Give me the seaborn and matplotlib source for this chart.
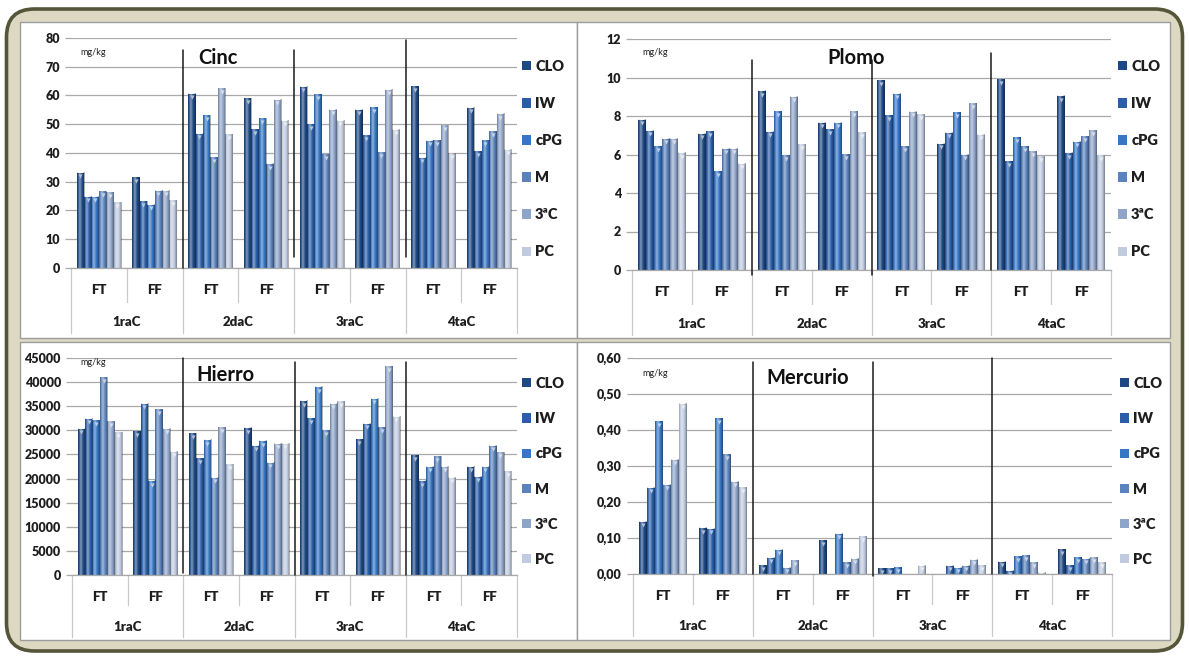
import numpy as np
import pandas as pd
import matplotlib
matplotlib.use("Agg")
import matplotlib.pyplot as plt
import matplotlib.transforms as mtransforms
import matplotlib.colors as mcolors
from matplotlib.patches import FancyBboxPatch, Rectangle, Patch
from matplotlib.ticker import FuncFormatter, MultipleLocator
import seaborn as sns

# ---- data -------------------------------------------------------------
grupos = ["1raC", "2daC", "3raC", "4taC"]
fases = ["FT", "FF"]
series = ["CLO", "IW", "cPG", "M", "3ªC", "PC"]

# rows: 1raC FT, 1raC FF, 2daC FT, 2daC FF, 3raC FT, 3raC FF, 4taC FT, 4taC FF
# columns follow `series`
cinc = [
    [33.2, 24.8, 24.8, 26.7, 26.4, 22.8],
    [31.6, 23.3, 22.0, 26.9, 26.9, 23.5],
    [60.6, 46.7, 53.1, 38.5, 62.5, 46.5],
    [59.0, 48.2, 52.0, 36.2, 58.5, 51.2],
    [63.0, 50.0, 60.5, 39.5, 55.0, 51.3],
    [55.0, 46.1, 56.0, 40.2, 62.0, 48.1],
    [63.2, 38.3, 44.3, 44.5, 49.6, 39.8],
    [55.7, 40.6, 44.4, 47.5, 53.6, 41.2],
]
plomo = [
    [7.80, 7.23, 6.42, 6.82, 6.82, 6.08],
    [7.08, 7.20, 5.12, 6.30, 6.30, 5.53],
    [9.30, 7.18, 8.25, 5.95, 9.00, 6.52],
    [7.65, 7.30, 7.65, 6.02, 8.25, 7.15],
    [9.87, 8.03, 9.15, 6.42, 8.22, 8.10],
    [6.56, 7.13, 8.20, 6.00, 8.67, 7.02],
    [9.90, 5.65, 6.90, 6.42, 6.18, 5.92],
    [9.04, 6.08, 6.66, 6.95, 7.27, 5.95],
]
hierro = [
    [30300, 32400, 32100, 41000, 31900, 29600],
    [29800, 35500, 19500, 34400, 30300, 25600],
    [29400, 24200, 28000, 20200, 30600, 23000],
    [30500, 26800, 27800, 23300, 27200, 27200],
    [36100, 32500, 39000, 30000, 35500, 36000],
    [28200, 31400, 36600, 30600, 43300, 32800],
    [24800, 19500, 22500, 24600, 22500, 20200],
    [22500, 20400, 22500, 26800, 25500, 21500],
]
mercurio = [
    [0.145, 0.240, 0.425, 0.248, 0.318, 0.473],
    [0.128, 0.126, 0.433, 0.333, 0.256, 0.241],
    [0.024, 0.045, 0.067, 0.018, 0.038, 0.000],
    [0.094, 0.000, 0.112, 0.033, 0.042, 0.105],
    [0.016, 0.016, 0.019, 0.000, 0.000, 0.023],
    [0.000, 0.023, 0.018, 0.023, 0.040, 0.024],
    [0.034, 0.009, 0.049, 0.052, 0.032, 0.003],
    [0.069, 0.025, 0.046, 0.043, 0.046, 0.032],
]

colores = ["#1d4885", "#2a5ea8", "#3676c4", "#5a82bd", "#8ea4c9", "#c0cbe0"]

# ---- style ------------------------------------------------------------
sns.set_theme(style="white")
plt.rcParams["font.family"] = ["Lato", "DejaVu Sans"]
plt.rcParams["font.weight"] = "heavy"
TXT = "#1e1e1e"
GRID = "#a9a9a9"
SEP = "#c9c9c9"
WT = "heavy"

W, H = 1189, 656
fig = plt.figure(figsize=(W / 100, H / 100), dpi=100)
fig.patch.set_facecolor("white")


def px_rect(x0, y0, x1, y1, **kw):
    """Rectangle given in pixel coordinates measured from the top-left."""
    return Rectangle((x0 / 100, (H - y1) / 100), (x1 - x0) / 100, (y1 - y0) / 100,
                     transform=fig.dpi_scale_trans, **kw)


# rounded beige frame, drawn beneath the axes
frame = FancyBboxPatch((0.065, 0.05), 11.76, 6.42,
                       boxstyle="round,pad=0,rounding_size=0.28",
                       transform=fig.dpi_scale_trans,
                       facecolor="#dcd8c2", edgecolor="#55553a", linewidth=2.6,
                       zorder=-10)
fig.patches.append(frame)
for (x0, y0, x1, y1) in [(20, 22, 577, 338), (577, 22, 1170, 338),
                         (20, 342, 577, 640), (577, 342, 1170, 640)]:
    fig.patches.append(px_rect(x0, y0, x1, y1, facecolor="white",
                               edgecolor="#9c9c9c", linewidth=1.0, zorder=-9))

cats = [f"{g} {f}" for g in grupos for f in fases]


def shade_bar(ax, bar):
    h = bar.get_height()
    if h <= 0:
        return
    x0, w = bar.get_x(), bar.get_width()
    t = np.linspace(0, 1, 64)
    s = (0.40 * np.exp(-((t - 0.36) / 0.2) ** 2)
         - 0.40 * np.clip((t - 0.62) / 0.38, 0, 1) ** 1.4
         - 0.30 * np.clip((0.16 - t) / 0.16, 0, 1))
    img = np.zeros((1, t.size, 4))
    img[0, s > 0, :3] = 1.0
    img[0, :, 3] = np.abs(s)
    ax.imshow(img, extent=[x0, x0 + w, 0, h], aspect="auto",
              interpolation="bilinear", zorder=2.5)


def panel(box, valores, ymax, step, titulo, title_pos, unit_pos, divisores,
          leg_anchor, leg_spacing, fmt, lab_off, grp_off, sep_short, sep_long):
    x0, y0, x1, y1 = box
    ax = fig.add_axes([x0 / W, 1 - y1 / H, (x1 - x0) / W, (y1 - y0) / H])
    ax.set_facecolor("none")
    axh = y1 - y0

    df = pd.DataFrame(valores, columns=series)
    df["cat"] = cats
    df = df.melt(id_vars="cat", var_name="serie", value_name="valor")

    sns.barplot(data=df, x="cat", y="valor", hue="serie", order=cats,
                hue_order=series, palette=colores, width=0.8, saturation=1,
                errorbar=None, linewidth=0, edgecolor="none", legend=False,
                ax=ax, zorder=2)

    tri = mtransforms.offset_copy(ax.transData, fig=fig, y=-2.6, units="points")
    for cont, col in zip(ax.containers, colores):
        light = mcolors.to_rgb(col)
        light = tuple(0.35 * c + 0.65 for c in light)
        xs, ys = [], []
        for bar in cont:
            shade_bar(ax, bar)
            if bar.get_height() > 0:
                xs.append(bar.get_x() + bar.get_width() / 2)
                ys.append(bar.get_height())
        ax.scatter(xs, ys, marker="v", s=9, color=light, linewidths=0,
                   transform=tri, zorder=3)

    ax.set_xlim(-0.5, len(cats) - 0.5)
    ax.set_ylim(0, ymax)
    ax.yaxis.set_major_locator(MultipleLocator(step))
    ax.yaxis.set_major_formatter(FuncFormatter(fmt))
    ax.set_xlabel("")
    ax.set_ylabel("")
    ax.set_xticks([])
    for sp in ["top", "right", "left"]:
        ax.spines[sp].set_visible(False)
    ax.spines["bottom"].set_color(GRID)
    ax.spines["bottom"].set_linewidth(0.9)
    ax.yaxis.grid(True, color=GRID, linewidth=0.9)
    ax.set_axisbelow(True)
    ax.tick_params(axis="y", left=True, length=4, width=0.9, color=GRID,
                   pad=4, labelsize=9, labelcolor=TXT)

    xt = ax.get_xaxis_transform()
    # category separators below the axis
    for k in range(len(cats) + 1):
        xb = k - 0.5
        depth = sep_long if k % 2 == 0 else sep_short
        ax.plot([xb, xb], [0, -depth / axh], transform=xt, color=SEP,
                lw=0.9, clip_on=False)
    for i, c in enumerate(cats):
        ax.text(i, -lab_off / axh, c.split()[1], transform=xt, ha="center",
                va="center", fontsize=9.5, fontweight=WT, color=TXT)
    for g, name in enumerate(grupos):
        ax.text(2 * g + 0.5, -grp_off / axh, name, transform=xt, ha="center",
                va="center", fontsize=9.5, fontweight=WT, color=TXT)

    # dividers between campaigns
    for xd, top, bot in divisores:
        ax.plot([xd, xd], [bot, top], transform=xt, color="#1a1a1a", lw=1.1,
                clip_on=False, zorder=4)

    ax.text(title_pos[0], title_pos[1], titulo, transform=xt, ha="left",
            va="center", fontsize=14.5, fontweight="bold", color="#111111")
    ax.text(unit_pos[0], unit_pos[1], "mg/kg", transform=ax.transAxes,
            ha="left", va="center", fontsize=6.5, fontweight="normal",
            color=TXT)

    handles = [Patch(facecolor=c, edgecolor="none") for c in colores]
    leg = ax.legend(handles, series, loc="upper left",
                    bbox_to_anchor=(leg_anchor[0] / W, 1 - leg_anchor[1] / H),
                    bbox_transform=fig.transFigure, frameon=False,
                    borderpad=0, borderaxespad=0, handlelength=0.6,
                    handleheight=0.6, handletextpad=0.3,
                    labelspacing=leg_spacing,
                    prop={"size": 10.5, "weight": WT})
    for t in leg.get_texts():
        t.set_color(TXT)
    return ax


entero = lambda v, p: f"{v:.0f}"
coma = lambda v, p: f"{v:.2f}".replace(".", ",")

panel((71, 38, 517, 268), cinc, 80, 10, "Cinc", (1.79, 0.913), (0.02, 0.935),
      [(1.5, 0.948, 0.0), (3.5, 0.948, 0.048), (5.5, 0.99, 0.048)],
      (522, 60), 1.65, entero, 22, 54, 34, 65)
panel((632, 39, 1111, 270), plomo, 12, 2, "Plomo", (2.77, 0.918), (0.021, 0.94),
      [(1.5, 0.909, -0.022), (3.5, 0.909, -0.022), (5.5, 0.94, 0.0)],
      (1118, 60), 1.65, entero, 22, 54, 34, 65)
panel((72, 358, 517, 575), hierro, 45000, 5000, "Hierro", (1.73, 0.92),
      (0.018, 0.977),
      [(1.5, 1.0, 0.01), (3.5, 0.98, 0.0), (5.5, 0.98, 0.0)],
      (522, 377), 1.52, entero, 22, 52, 30, 62)
panel((633, 358, 1112, 574), mercurio, 0.6, 0.1, "Mercurio", (1.73, 0.907),
      (0.02, 0.93),
      [(1.5, 0.98, 0.0), (3.5, 0.98, -0.01), (5.5, 1.0, 0.0)],
      (1120, 377), 1.52, coma, 22, 52, 30, 62)

fig.savefig("out.png", dpi=100, facecolor=fig.get_facecolor())
